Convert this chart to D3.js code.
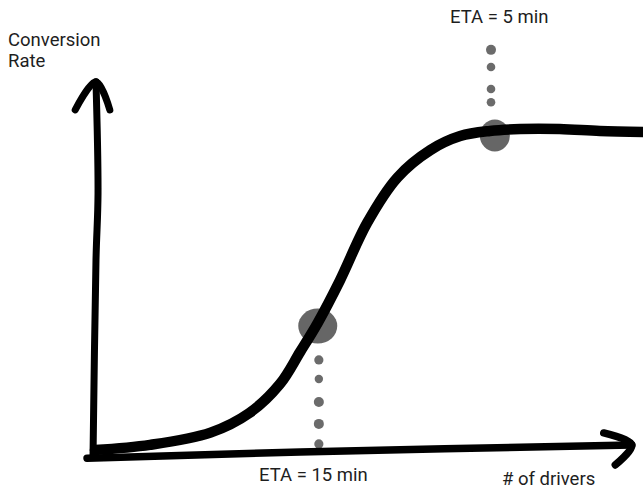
<!DOCTYPE html>
<html>
<head>
<meta charset="utf-8">
<script src="https://cdn.jsdelivr.net/npm/d3@7"></script>
<style>
  html, body { margin: 0; padding: 0; background: #fff; }
  svg { display: block; }
  text { font-family: Roboto, "Open Sans", sans-serif; font-size: 18.5px; fill: #1e1e1e; }
</style>
</head>
<body>
<svg id="chart" width="643" height="495"></svg>
<script>
// ---- Data (drivers index 0..100, conversion 0..1) ----
const driversX   = [0, 10, 21, 28, 33.6, 37.3, 40.5, 44.5, 49.5, 55, 61, 66.4, 71.8, 77.3, 84.5, 91.8, 100];
const conversion = [0.006, 0.022, 0.06, 0.12, 0.21, 0.31, 0.40, 0.53, 0.71, 0.85, 0.935, 0.978, 0.994, 1.0, 1.0, 0.994, 0.991];

// hand-drawn axes (in data units)
const yAxisX = [-0.36, 0.18, 0.55, 0.18];
const yAxisY = [-0.012, 0.594, 0.80, 1.146];
const yArrowX = [-3.6, 0.18, 2.7];
const yArrowY = [1.059, 1.146, 1.059];
const xAxisX = [-1.45, 37.3, 97.6];
const xAxisY = [-0.019, 0.0, 0.022];
const xArrowX = [92.5, 97.6, 94.6];
const xArrowY = [0.059, 0.022, -0.04];

// ETA markers
const etaLabels = ["ETA = 5 min", "ETA = 15 min"];
const etaX = [72.7, 40.5];
const etaY = [0.98, 0.39];
const dotsTopY = [1.245, 1.192, 1.124, 1.083];
const dotsBottomY = [0.285, 0.226, 0.155, 0.087, 0.025];
const dotsTopX = 72.0;
const dotsBottomX = 40.7;

const axisLabels = ["Conversion", "Rate", "# of drivers"];

// ---- Scales ----
const svg = d3.select("#chart");
const x = d3.scaleLinear().domain([0, 100]).range([95, 645]);
const y = d3.scaleLinear().domain([0, 1]).range([452, 129]);

const line = d3.line().x(d => x(d[0])).y(d => y(d[1]));

// blobs (behind curve)
const blobs = [
  { cx: etaX[0], cy: etaY[0], rx: 15, ry: 16 },
  { cx: etaX[1], cy: etaY[1], rx: 19.5, ry: 17.5 }
];
svg.selectAll("ellipse.blob").data(blobs).enter().append("ellipse")
  .attr("class", "blob")
  .attr("cx", d => x(d.cx)).attr("cy", d => y(d.cy))
  .attr("rx", d => d.rx).attr("ry", d => d.ry)
  .attr("fill", "#666");

// dotted lines
const topDots = dotsTopY.map((v, i) => ({ x: dotsTopX, y: v, r: i === 0 ? 5 : 4.3 }));
const bottomDots = dotsBottomY.map((v, i) => ({ x: dotsBottomX, y: v, r: [4.6, 4.2, 5, 5, 4.6][i] }));
svg.selectAll("circle.dot").data(topDots.concat(bottomDots)).enter().append("circle")
  .attr("class", "dot")
  .attr("cx", d => x(d.x)).attr("cy", d => y(d.y)).attr("r", d => d.r)
  .attr("fill", "#6b6b6b");

// axes
const axisStyle = sel => sel.attr("fill", "none").attr("stroke", "#000")
  .attr("stroke-width", 7).attr("stroke-linecap", "round").attr("stroke-linejoin", "round");

svg.append("path").datum(d3.zip(yAxisX, yAxisY))
  .attr("d", d3.line().x(d => x(d[0])).y(d => y(d[1])).curve(d3.curveCatmullRom)).call(axisStyle);
svg.append("path").datum(d3.zip(yArrowX, yArrowY))
  .attr("d", d3.line().x(d => x(d[0])).y(d => y(d[1])).curve(d3.curveCatmullRom)).call(axisStyle);
svg.append("path").datum(d3.zip(xAxisX, xAxisY))
  .attr("d", d3.line().x(d => x(d[0])).y(d => y(d[1])).curve(d3.curveCatmullRom)).call(axisStyle)
  .attr("stroke-width", 7.5);
svg.append("path").datum(d3.zip(xArrowX, xArrowY))
  .attr("d", d3.line().x(d => x(d[0])).y(d => y(d[1])).curve(d3.curveCatmullRom)).call(axisStyle)
  .attr("stroke-width", 7.5);

// curve
svg.append("path").datum(d3.zip(driversX, conversion))
  .attr("d", line.curve(d3.curveCatmullRom))
  .attr("fill", "none").attr("stroke", "#000")
  .attr("stroke-width", 10.5).attr("stroke-linecap", "round").attr("stroke-linejoin", "round");

// texts
svg.append("text").attr("x", 8).attr("y", 46).text(axisLabels[0]);
svg.append("text").attr("x", 8).attr("y", 67).text(axisLabels[1]);
svg.append("text").attr("x", 502).attr("y", 485).text(axisLabels[2]);
svg.append("text").attr("x", 450).attr("y", 23).text(etaLabels[0]);
svg.append("text").attr("x", 259).attr("y", 481).text(etaLabels[1]);
</script>
</body>
</html>
